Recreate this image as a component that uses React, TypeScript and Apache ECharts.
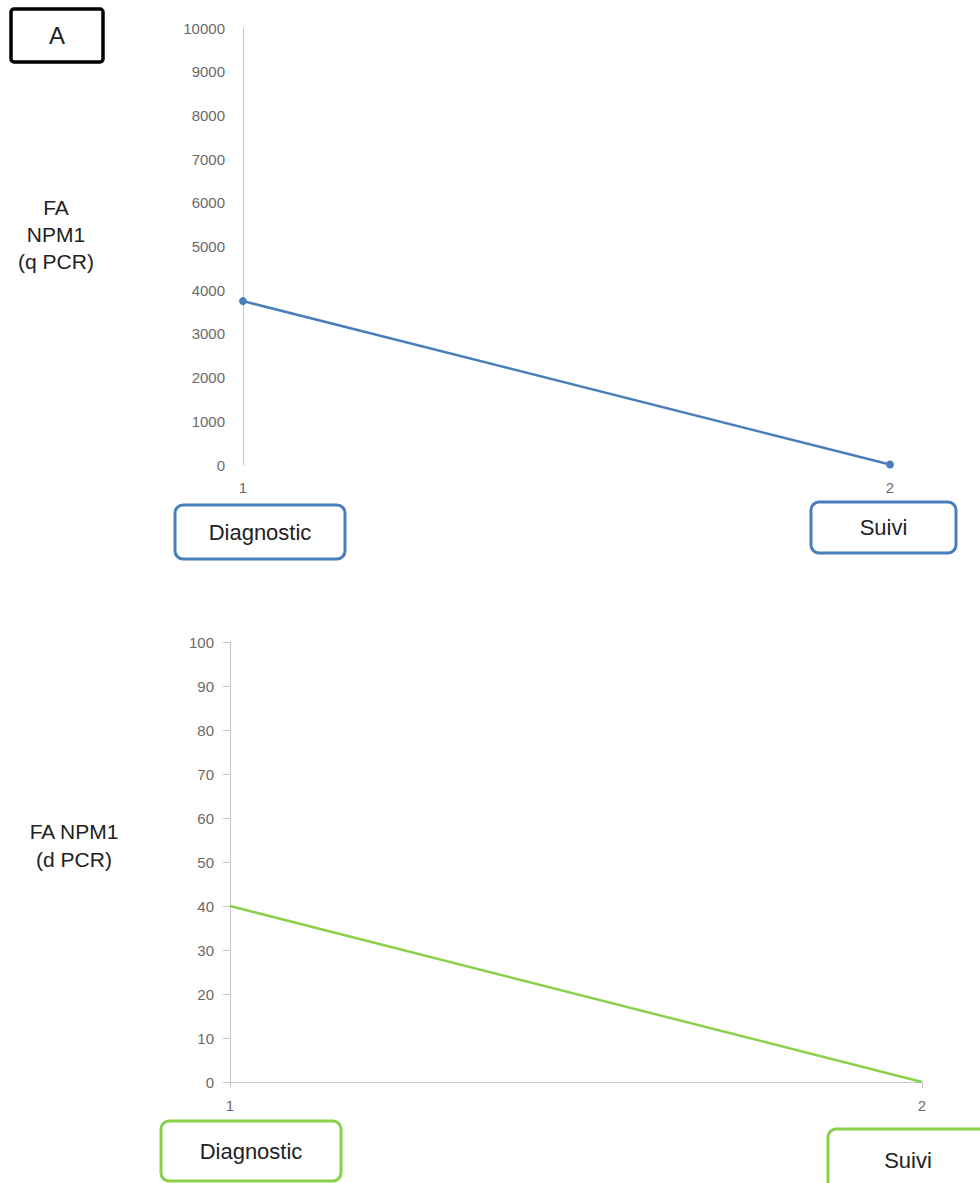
import React, { useEffect, useRef } from "react";
import * as echarts from "echarts";

const timePoints = ["1", "2"];
const qpcrValues = [3750, 10];
const dpcrValues = [40, 0];
const qpcrTicks = { min: 0, max: 10000, interval: 1000 };
const dpcrTicks = { min: 0, max: 100, interval: 10 };
const stageLabels = ["Diagnostic", "Suivi"];

const BLUE = "#4a7ebb";
const GREEN = "#8ad04b";
const AXIS = "#c6c6c6";
const LABEL = "#6a6a6a";
const FONT = "Arial, 'Liberation Sans', sans-serif";

function box(x: number, y: number, w: number, h: number, color: string, text: string, lw = 3, r = 8, fs = 22, tx?: number) {
  return {
    type: "group",
    x,
    y,
    children: [
      { type: "rect", shape: { x: 0, y: 0, width: w, height: h, r }, style: { fill: "#fff", stroke: color, lineWidth: lw } },
      {
        type: "text",
        x: tx ?? w / 2,
        y: h / 2,
        style: { text, fill: "#222", font: `${fs}px ${FONT}`, align: "center", verticalAlign: "middle" },
      },
    ],
  };
}

export default function App() {
  const ref = useRef<HTMLDivElement>(null);
  useEffect(() => {
    document.body.style.margin = "0";
    const chart = echarts.init(ref.current!, null, { renderer: "svg" });
    const yLabel = { color: LABEL, fontSize: 15, fontFamily: FONT, formatter: (v: number) => String(v) };
    chart.setOption({
      animation: false,
      backgroundColor: "#fff",
      grid: [
        { left: 243, right: 90, top: 28, height: 437 },
        { left: 230, right: 58, top: 642, height: 440 },
      ],
      xAxis: [
        {
          gridIndex: 0,
          type: "category",
          data: timePoints,
          boundaryGap: false,
          axisLine: { show: false },
          axisTick: { show: false },
          axisLabel: { color: LABEL, fontSize: 15, fontFamily: FONT, margin: 15 },
        },
        {
          gridIndex: 1,
          type: "category",
          data: timePoints,
          boundaryGap: false,
          axisLine: { show: true, lineStyle: { color: AXIS, width: 1 } },
          axisTick: { show: true, length: 6, lineStyle: { color: AXIS } },
          axisLabel: { color: LABEL, fontSize: 15, fontFamily: FONT, margin: 16 },
        },
      ],
      yAxis: [
        {
          gridIndex: 0,
          type: "value",
          ...qpcrTicks,
          axisLine: { show: true, lineStyle: { color: AXIS, width: 1 } },
          axisTick: { show: false },
          splitLine: { show: false },
          axisLabel: { ...yLabel, margin: 18 },
        },
        {
          gridIndex: 1,
          type: "value",
          ...dpcrTicks,
          axisLine: { show: true, lineStyle: { color: AXIS, width: 1 } },
          axisTick: { show: true, inside: false, length: 7, lineStyle: { color: AXIS } },
          splitLine: { show: false },
          axisLabel: { ...yLabel, margin: 16 },
        },
      ],
      series: [
        {
          type: "line",
          xAxisIndex: 0,
          yAxisIndex: 0,
          data: qpcrValues,
          symbol: "circle",
          symbolSize: 8,
          itemStyle: { color: BLUE },
          lineStyle: { color: BLUE, width: 2.5 },
        },
        {
          type: "line",
          xAxisIndex: 1,
          yAxisIndex: 1,
          data: dpcrValues,
          showSymbol: false,
          symbol: "none",
          lineStyle: { color: GREEN, width: 2.5 },
        },
      ],
      graphic: [
        box(11, 9, 92, 53, "#000", "A", 3.5, 3, 24),
        {
          type: "text",
          x: 56,
          y: 234,
          style: { text: "FA\nNPM1\n(q PCR)", fill: "#222", font: `21px ${FONT}`, lineHeight: 27, align: "center", verticalAlign: "middle" },
        },
        {
          type: "text",
          x: 74,
          y: 845,
          style: { text: "FA NPM1\n(d PCR)", fill: "#222", font: `21px ${FONT}`, lineHeight: 28, align: "center", verticalAlign: "middle" },
        },
        box(175, 505, 170, 54, BLUE, stageLabels[0]),
        box(811, 502, 145, 51, BLUE, stageLabels[1]),
        box(161, 1121, 180, 60, GREEN, stageLabels[0]),
        box(828, 1129, 170, 62, GREEN, stageLabels[1], 3, 8, 22, 80),
      ],
    });
    return () => chart.dispose();
  }, []);
  return <div ref={ref} style={{ width: 980, height: 1183 }} />;
}
